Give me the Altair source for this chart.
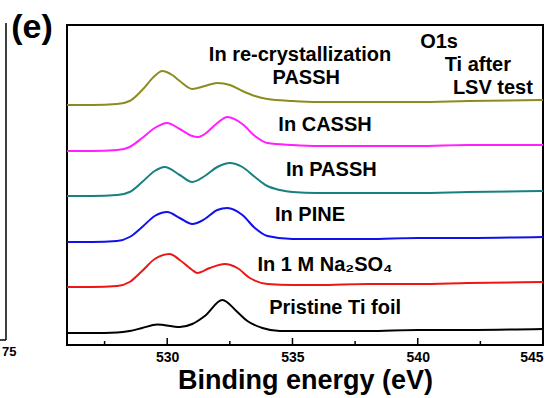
import altair as alt
import pandas as pd

# ---- data (binding energy, eV / stacked intensity, a.u.) ----
names = ["In re-crystallization PASSH", "In CASSH", "In PASSH", "In PINE",
         "In 1 M Na2SO4", "Pristine Ti foil"]
colors = ["#8c8c1e", "#ff1fff", "#178080", "#1010ee", "#ee1515", "#000000"]

olive_e = [526, 527, 528, 528.5, 529, 529.5, 529.8, 530.2, 530.5, 531, 531.5, 532, 532.5,
           533, 533.5, 534, 535, 536, 538, 540, 542, 545]
olive_v = [240, 240, 241, 244, 255, 269, 274, 270, 264, 256, 259, 262, 260,
           254, 249, 246, 244, 243, 243, 243, 244, 245]

magenta_e = [526, 527, 528, 528.5, 529, 529.5, 530, 530.5, 531, 531.2, 531.5, 532, 532.4,
             533, 533.5, 534, 535, 536, 538, 540, 542, 545]
magenta_v = [194, 194, 195, 198, 207, 217, 222, 216, 209, 208, 211, 222, 228,
             221, 209, 202, 200, 199, 199, 199, 200, 200]

teal_e = [526, 527, 528, 528.5, 529, 529.5, 529.9, 530.5, 531, 531.5, 532, 532.5,
          533, 533.5, 534, 534.5, 535, 536, 538, 540, 542, 545]
teal_v = [149, 149, 150, 153, 163, 174, 178, 170, 163, 169, 178, 182,
          178, 168, 159, 155, 153, 152, 152, 152, 153, 154]

blue_e = [526, 527, 528, 528.5, 529, 529.5, 530, 530.5, 531, 531.5, 532, 532.4,
          533, 533.5, 534, 535, 536, 538, 540, 542, 545]
blue_v = [103, 103, 104, 108, 118, 129, 133, 127, 121, 126, 135, 137,
          130, 117, 109, 106, 106, 106, 107, 107, 108]

red_e = [526, 527, 528, 528.5, 529, 529.5, 530.1, 530.5, 531, 531.2, 531.7, 532.3,
         532.8, 533.3, 534, 535, 536, 538, 540, 542, 545]
red_v = [58, 58, 59, 63, 74, 86, 91, 85, 75, 72, 77, 81,
         77, 67, 61, 60, 60, 61, 61, 62, 63]

black_e = [526, 527, 528, 528.5, 529, 529.6, 530.5, 531, 531.5, 532.2, 532.8, 533.2,
           533.8, 534.5, 536, 538, 540, 542, 545]
black_v = [12, 12, 12.5, 14, 17, 20.5, 18, 21, 29, 45, 33, 24,
           17, 14, 14, 14, 15, 15, 16]

label_text = ["In re-crystallization", "PASSH", "O1s", "Ti after", "LSV test",
              "In CASSH", "In PASSH", "In PINE", "In 1 M Na\u2082SO\u2084",
              "Pristine Ti foil"]
label_x = [535.3, 535.55, 540.85, 542.4, 543.0, 536.3, 536.55, 535.7, 536.3, 536.7]
label_y = [290, 267, 303, 280, 257, 220, 175, 130, 80, 37]

major_ticks = [530, 535, 540, 545]
minor_ticks = [527.5, 532.5, 537.5, 542.5]

panel_tag = ["(e)"]
side_text = ["75"]

# ---- tables ----
series_lists = [(olive_e, olive_v), (magenta_e, magenta_v), (teal_e, teal_v),
                (blue_e, blue_v), (red_e, red_v), (black_e, black_v)]
rows = []
for name, (es, vs) in zip(names, series_lists):
    for e, v in zip(es, vs):
        rows.append({"series": name, "energy": e, "value": v})
df = pd.DataFrame(rows)

ticks_df = pd.DataFrame(
    {"tick": major_ticks + minor_ticks,
     "base": [0] * (len(major_ticks) + len(minor_ticks)),
     "top": [7] * len(major_ticks) + [4] * len(minor_ticks)})
labels_df = pd.DataFrame({"text": label_text, "x": label_x, "y": label_y})

FONT = "Liberation Sans"
x_scale = alt.Scale(domain=[526, 545], nice=False, zero=False)
y_scale = alt.Scale(domain=[0, 320], nice=False, zero=False)

lines = alt.Chart(df).mark_line(strokeWidth=2, interpolate="monotone").encode(
    x=alt.X("energy:Q", scale=x_scale,
            axis=alt.Axis(values=major_ticks, title="Binding energy (eV)", ticks=False,
                          domain=False, grid=False, labelFont=FONT, labelFontSize=14,
                          labelFontWeight="bold", labelColor="black", labelPadding=5,
                          titleFont=FONT, titleFontSize=27, titleFontWeight="bold",
                          titleColor="black", titlePadding=3, format="d")),
    y=alt.Y("value:Q", scale=y_scale, axis=None),
    color=alt.Color("series:N", scale=alt.Scale(domain=names, range=colors), legend=None),
    detail="series:N",
)

tick_marks = alt.Chart(ticks_df).mark_rule(color="black", strokeWidth=1.5).encode(
    x=alt.X("tick:Q", scale=x_scale),
    y=alt.Y("base:Q", scale=y_scale),
    y2="top:Q",
)

texts = alt.Chart(labels_df).mark_text(
    font=FONT, fontSize=20, fontWeight="bold", color="black",
    align="center", baseline="middle").encode(
    x=alt.X("x:Q", scale=x_scale),
    y=alt.Y("y:Q", scale=y_scale),
    text="text:N",
)

tag = alt.Chart(pd.DataFrame({"t": panel_tag})).mark_text(
    font=FONT, fontSize=34, fontWeight="bold", color="black",
    align="center", baseline="middle").encode(
    x=alt.value(-35), y=alt.value(3), text="t:N")

side_rule = alt.Chart(pd.DataFrame({"t": side_text})).mark_rule(
    color="black", strokeWidth=1.5).encode(
    x=alt.value(-61), y=alt.value(-2), y2=alt.value(315))

side_base = alt.Chart(pd.DataFrame({"t": side_text})).mark_rule(
    color="black", strokeWidth=1.5).encode(
    x=alt.value(-67), x2=alt.value(-61), y=alt.value(315))

side_lab = alt.Chart(pd.DataFrame({"t": side_text})).mark_text(
    font=FONT, fontSize=13, fontWeight="bold", color="black",
    align="left", baseline="middle").encode(
    x=alt.value(-65), y=alt.value(327), text="t:N")

chart = alt.layer(lines, tick_marks, texts, tag, side_rule, side_base, side_lab).properties(
    width=476, height=320,
    autosize=alt.AutoSizeParams(type="none"),
    padding={"left": 67, "top": 25, "right": 14, "bottom": 53},
).configure_view(stroke="black", strokeWidth=2)

chart.save("out.html", embed_options={"renderer": "svg", "actions": False})
